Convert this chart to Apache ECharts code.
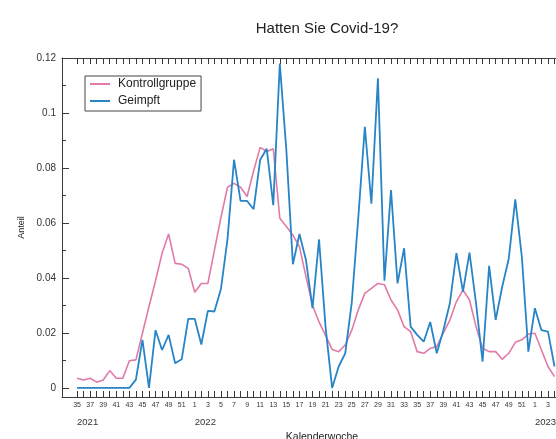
<!DOCTYPE html>
<html>
<head>
<meta charset="utf-8">
<script src="https://cdn.jsdelivr.net/npm/echarts@6/dist/echarts.min.js"></script>
<style>
  html, body { margin: 0; padding: 0; background: #fff; }
  #chart { width: 556px; height: 439px; }
</style>
</head>
<body>
<div id="chart"></div>
<script>
// Kalenderwochen ab KW 35/2021
const weeks = [
  35, 36, 37, 38, 39, 40, 41, 42, 43, 44, 45, 46, 47, 48, 49, 50, 51, 52,
  1, 2, 3, 4, 5, 6, 7, 8, 9, 10, 11, 12, 13, 14, 15, 16, 17, 18, 19, 20,
  21, 22, 23, 24, 25, 26, 27, 28, 29, 30, 31, 32, 33, 34, 35, 36, 37, 38,
  39, 40, 41, 42, 43, 44, 45, 46, 47, 48, 49, 50, 51, 52,
  1, 2, 3, 4
];
const years = ['2021', '2022', '2023'];

const kontrollgruppe = [
  0.0035, 0.0029, 0.0035, 0.0021, 0.0029, 0.0063, 0.0035, 0.0035, 0.0099, 0.0102,
  0.020, 0.0296, 0.039, 0.049, 0.056, 0.0453, 0.045, 0.0435, 0.0348, 0.038,
  0.038, 0.050, 0.062, 0.073, 0.0744, 0.073, 0.0696, 0.079, 0.0875, 0.086,
  0.087, 0.0617, 0.0587, 0.0556, 0.0514, 0.0405, 0.030, 0.024, 0.019, 0.014,
  0.0132, 0.0156, 0.021, 0.0284, 0.0344, 0.0362, 0.038, 0.0375, 0.032, 0.0284,
  0.0223, 0.0205, 0.0132, 0.0126, 0.0144, 0.015, 0.020, 0.0247, 0.0314, 0.0356,
  0.032, 0.0223, 0.0144, 0.0132, 0.0132, 0.0104, 0.0126, 0.0166, 0.0175, 0.0196,
  0.0199, 0.0138, 0.0078, 0.0041
];
const geimpft = [
  0, 0, 0, 0, 0, 0, 0, 0, 0, 0.003,
  0.0175, 0, 0.021, 0.0138, 0.0193, 0.009, 0.0104, 0.0251, 0.0251, 0.0158,
  0.028, 0.0278, 0.036, 0.054, 0.083, 0.068, 0.068, 0.065, 0.083, 0.087,
  0.0665, 0.118, 0.0865, 0.045, 0.056, 0.0465, 0.029, 0.054, 0.022, 0,
  0.0078, 0.0126, 0.031, 0.062, 0.095, 0.067, 0.1126, 0.039, 0.072, 0.038,
  0.0508, 0.0223, 0.0193, 0.0168, 0.024, 0.0126, 0.021, 0.0308, 0.049, 0.035,
  0.0492, 0.0308, 0.0096, 0.0444, 0.0247, 0.0368, 0.047, 0.0686, 0.0478, 0.0132,
  0.029, 0.021, 0.0205, 0.0078
];
const yTicks = [0, 0.02, 0.04, 0.06, 0.08, 0.1, 0.12];
const yMinorTicks = [0.01, 0.03, 0.05, 0.07, 0.09, 0.11];

const font = 'Liberation Sans, Arial, sans-serif';
const axisColor = '#3a3a3a';

// Positionen auf der Achse: Index der Woche
const weekIdx = weeks.map((w, i) => i);
const labelIdx = weekIdx.filter(i => i % 2 === 0);
const yearIdx = weekIdx.filter(i => i === 0 || weeks[i] === 1);

const xMin = -2.3, xMax = 77.2;

const chart = echarts.init(document.getElementById('chart'));
chart.setOption({
  animation: false,
  title: {
    text: 'Hatten Sie Covid-19?',
    left: 322,
    top: 16,
    textAlign: 'center',
    textStyle: { fontFamily: font, fontSize: 15, fontWeight: 'normal', color: '#222' }
  },
  legend: {
    orient: 'vertical',
    left: 85,
    top: 76,
    icon: 'rect',
    itemWidth: 20,
    itemHeight: 2,
    itemGap: 5,
    padding: [2, 5, 4, 5],
    borderColor: '#444',
    borderWidth: 1,
    textStyle: { fontFamily: font, fontSize: 12, color: '#222', padding: [0, 0, 0, 3] },
    data: ['Kontrollgruppe', 'Geimpft']
  },
  grid: { left: 62, top: 58, right: -26, bottom: 42, outerBoundsMode: 'none' },
  xAxis: [
    {
      type: 'value', position: 'bottom', min: xMin, max: xMax,
      axisLine: { show: true, onZero: false, lineStyle: { color: axisColor } },
      axisTick: { inside: true, length: 6, customValues: weekIdx, lineStyle: { color: axisColor } },
      axisLabel: {
        customValues: labelIdx, margin: 5, fontSize: 7, fontFamily: font, color: '#333',
        formatter: v => String(weeks[v] ?? '')
      },
      splitLine: { show: false }
    },
    {
      type: 'value', position: 'top', min: xMin, max: xMax,
      axisLine: { show: true, onZero: false, lineStyle: { color: axisColor } },
      axisTick: { inside: true, length: 6, customValues: weekIdx, lineStyle: { color: axisColor } },
      axisLabel: { show: false },
      splitLine: { show: false }
    },
    {
      type: 'value', position: 'bottom', min: xMin, max: xMax,
      axisLine: { show: false, onZero: false },
      axisTick: { show: false },
      axisLabel: {
        customValues: yearIdx, margin: 20, fontSize: 9.5, fontFamily: font, color: '#333',
        align: 'left',
        formatter: v => years[yearIdx.indexOf(v)]
      },
      splitLine: { show: false },
      name: 'Kalenderwoche',
      nameLocation: 'middle',
      nameGap: 34,
      nameTextStyle: { fontFamily: font, fontSize: 10.5, color: '#222' }
    }
  ],
  yAxis: [
    {
      type: 'value', min: -0.0033, max: 0.12,
      axisLine: { show: true, onZero: false, lineStyle: { color: axisColor } },
      axisTick: { inside: true, length: 7, customValues: yTicks, lineStyle: { color: axisColor } },
      axisLabel: { customValues: yTicks, margin: 6, fontSize: 10, fontFamily: font, color: '#333' },
      splitLine: { show: false },
      name: 'Anteil',
      nameLocation: 'middle',
      nameGap: 33,
      nameTextStyle: { fontFamily: font, fontSize: 9, color: '#222' }
    },
    {
      type: 'value', min: -0.0033, max: 0.12, position: 'left',
      axisLine: { show: false, onZero: false },
      axisTick: { inside: true, length: 4, customValues: yMinorTicks, lineStyle: { color: axisColor } },
      axisLabel: { show: false },
      splitLine: { show: false }
    }
  ],
  series: [
    {
      name: 'Kontrollgruppe', type: 'line', symbol: 'none',
      color: '#e07aa8',
      lineStyle: { width: 1.6 },
      data: kontrollgruppe.map((v, i) => [i, v])
    },
    {
      name: 'Geimpft', type: 'line', symbol: 'none',
      color: '#2784c6',
      lineStyle: { width: 1.8 },
      data: geimpft.map((v, i) => [i, v])
    }
  ]
});
</script>
</body>
</html>
